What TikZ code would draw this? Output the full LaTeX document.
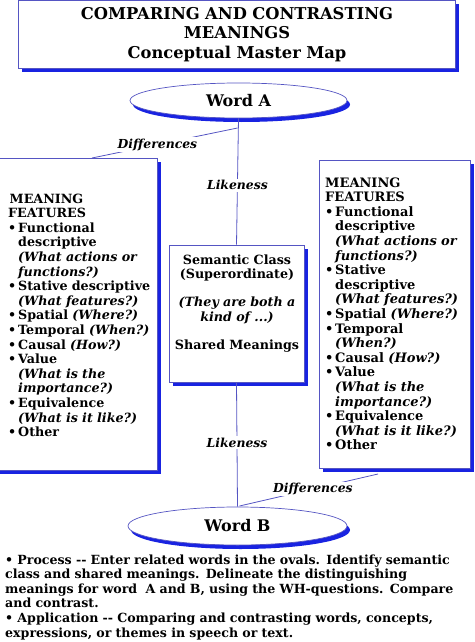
\documentclass[tikz,border=0pt]{standalone}
\usepackage{fontspec}
\setmainfont{DejaVu Serif}
\usetikzlibrary{shapes.geometric,shadows,calc}
\definecolor{shblue}{RGB}{25,35,225}
\definecolor{edgeblue}{RGB}{85,85,195}
\newcommand{\bul}{\makebox[10pt][l]{\textbullet}}
\newcommand{\ind}{\hspace*{10pt}}
\begin{document}
\begin{tikzpicture}[x=1pt,y=-1pt,
  frame/.style={draw=edgeblue, line width=0.7pt, fill=white, inner sep=0pt,
    drop shadow={shadow xshift=3.5pt, shadow yshift=-3.5pt, fill=shblue, opacity=1}},
  oval/.style={ellipse, draw=edgeblue, line width=0.7pt, fill=white, inner sep=0pt,
    font=\fontsize{16}{18}\selectfont\bfseries,
    drop shadow={shadow xshift=3pt, shadow yshift=-4pt, fill=shblue, opacity=1}},
  boxtext/.style={inner sep=0pt, align=left, text width=150pt,
    font=\fontsize{12.7}{14.6}\selectfont\bfseries},
  conn/.style={draw=edgeblue, line width=0.8pt},
  lbl/.style={fill=white, inner sep=1.5pt, font=\fontsize{12.4}{15}\selectfont\bfseries\itshape}
]
\useasboundingbox (0,0) rectangle (474,642);

% title
\node[frame, minimum width=437pt, minimum height=68pt] (title) at (236.5,34.5) {};
\node[inner sep=0pt, align=center, text width=430pt, anchor=base,
  font=\fontsize{16.3}{19.5}\selectfont\bfseries] (tt) at (237,19.5)
  {COMPARING AND CONTRASTING\\MEANINGS\\Conceptual Master Map};

% ovals
\node[oval, minimum width=217pt, minimum height=35pt] (wa) at (238.5,100.5) {Word A};
\node[oval, minimum width=219pt, minimum height=38pt] (wb) at (237.5,526) {Word B};

% boxes
\node[frame, minimum width=161pt, minimum height=312pt] (lb) at (76.5,314) {};
\node[frame, minimum width=135pt, minimum height=137pt] (sem) at (236.5,313.5) {};
\node[frame, minimum width=151pt, minimum height=308pt] (rb) at (394.5,314) {};

% connectors
\draw[conn] (wa.south) -- node[lbl, pos=0.53] {Likeness} (sem.north);
\draw[conn] (sem.south) -- node[lbl, pos=0.485] {Likeness} (wb.north);
\coordinate (dA) at (237.5,128);
\coordinate (dL) at (92,158);
\draw[conn] (dA) -- node[lbl, pos=0.55] {Differences} (dL);
\coordinate (dB) at (239.5,506);
\coordinate (dR) at (378,474);
\draw[conn] (dB) -- node[lbl, pos=0.53] {Differences} (dR);

% left box text
\node[boxtext, anchor=base west] (lt) at (8,203) {%
\hspace*{1.5pt}MEANING\\
FEATURES\\
\bul Functional\\
\ind descriptive\\
\ind\textit{(What actions or}\\
\ind\textit{functions?)}\\
\bul Stative descriptive\\
\ind\textit{(What features?)}\\
\bul Spatial \textit{(Where?)}\\
\bul Temporal \textit{(When?)}\\
\bul Causal \textit{(How?)}\\
\bul Value\\
\ind\textit{(What is the}\\
\ind\textit{importance?)}\\
\bul Equivalence\\
\ind\textit{(What is it like?)}\\
\bul Other};

% right box text
\node[boxtext, anchor=base west, font=\fontsize{13}{14.6}\selectfont\bfseries] (rt) at (325,187) {%
MEANING\\
FEATURES\\
\bul Functional\\
\ind descriptive\\
\ind\textit{(What actions or}\\
\ind\textit{functions?)}\\
\bul Stative\\
\ind descriptive\\
\ind\textit{(What features?)}\\
\bul Spatial \textit{(Where?)}\\
\bul Temporal\\
\ind\textit{(When?)}\\
\bul Causal \textit{(How?)}\\
\bul Value\\
\ind\textit{(What is the}\\
\ind\textit{importance?)}\\
\bul Equivalence\\
\ind\textit{(What is it like?)}\\
\bul Other};

% semantic text
\node[boxtext, align=center, text width=132pt, anchor=base] (st) at (237,264) {%
Semantic Class\\
(Superordinate)\\[13.4pt]
\textit{(They are both a}\\
\textit{kind of ...)}\\[13.4pt]
Shared Meanings};

% bottom text
\node[boxtext, text width=470pt, anchor=base west, font=\fontsize{12.6}{14.6}\selectfont\bfseries] (bt) at (5,564) {%
\textbullet\ Process -{}- Enter related words in the ovals. Identify semantic\\
class and shared meanings. Delineate the distinguishing\\
meanings for word\ \ A and B, using the WH-questions. Compare\\
and contrast.\\
\textbullet\ Application -{}- Comparing and contrasting words, concepts,\\
expressions, or themes in speech or text.};
\end{tikzpicture}
\end{document}
